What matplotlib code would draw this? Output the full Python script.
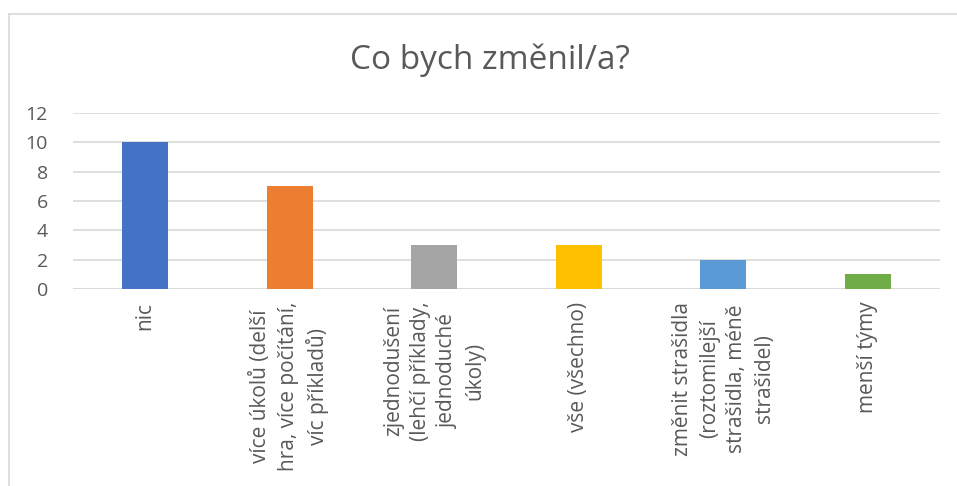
import matplotlib.pyplot as plt
from matplotlib.lines import Line2D

categories = [
    "nic",
    "více úkolů (delší\nhra, více počítání,\nvíc příkladů)",
    "zjednodušení\n(lehčí příklady,\njednoduché\núkoly)",
    "vše (všechno)",
    "změnit strašidla\n(roztomilejší\nstrašidla, méně\nstrašidel)",
    "menší týmy",
]
values = [10, 7, 3, 3, 2, 1]
bar_colors = ["#4472C4", "#ED7D31", "#A5A5A5", "#FFC000", "#5B9BD5", "#70AD47"]
yticks = [0, 2, 4, 6, 8, 10, 12]

plt.rcParams['font.family'] = ['Open Sans', 'DejaVu Sans']
text_col = "#595959"
grid_col = "#D9D9D9"

W, H = 957, 486
fig = plt.figure(figsize=(W / 100, H / 100), dpi=100)

# chart frame (only top and left edges are visible in the crop)
fig.add_artist(Line2D([8.5 / W, 1], [1 - 14 / H, 1 - 14 / H], color=grid_col, lw=1.2))
fig.add_artist(Line2D([8.5 / W, 8.5 / W], [0, 1 - 14 / H], color=grid_col, lw=1.2))

ax = fig.add_axes([73 / W, 1 - 289 / H, (940 - 73) / W, (289 - 113) / H])
x = list(range(len(categories)))
ax.bar(x, values, width=0.32, color=bar_colors, zorder=3)
ax.set_xlim(-0.5, len(categories) - 0.5)
ax.set_ylim(0, 12)
ax.set_yticks(yticks)
ax.yaxis.grid(True, color=grid_col, lw=1.2, zorder=0)
for s in ax.spines.values():
    s.set_visible(False)
ax.axhline(0, color=grid_col, lw=1.2, zorder=2)
ax.tick_params(axis='both', length=0, colors=text_col)
ax.tick_params(axis='y', pad=18, labelsize=14)
ax.tick_params(axis='x', pad=9, labelsize=15)
ax.set_xticks(x)
ax.set_xticklabels(categories, rotation=90, ha='center', va='top',
                   multialignment='center', linespacing=1.4)

fig.text(490 / W, 1 - 60 / H, "Co bych změnil/a?", ha='center', va='center',
         fontsize=24, color=text_col)

fig.savefig("out.png", dpi=100)
